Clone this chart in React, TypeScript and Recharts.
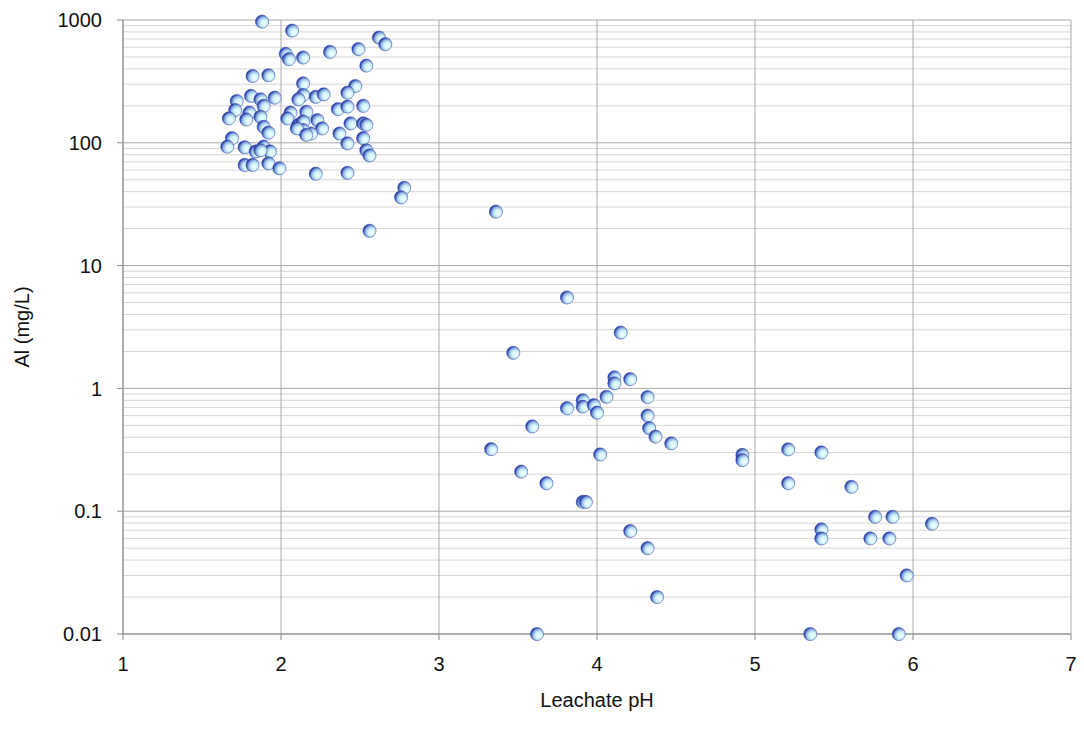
import { ScatterChart, Scatter, XAxis, YAxis, CartesianGrid } from 'recharts';

// Acid leachates (pH < 3)
const lowPh = [
  1.88, 2.07, 2.03, 2.05, 2.14, 2.31, 2.49, 2.62, 2.66, 2.54,
  1.82, 1.92, 2.14, 2.47, 2.42, 2.52, 1.96, 2.14, 2.11, 2.22,
  2.27, 1.81, 1.87, 1.72, 1.89, 1.71, 1.80, 1.67, 1.78, 1.87,
  1.89, 1.92, 2.06, 2.04, 2.16, 2.36, 2.42, 2.11, 2.14, 2.23,
  2.26, 2.19, 2.14, 2.44, 2.52, 2.54, 2.37, 2.52, 2.42, 2.54,
  2.56, 1.69, 1.66, 1.77, 1.84, 1.89, 1.93, 1.87, 1.77, 1.82,
  1.92, 1.99, 2.22, 2.42, 2.78, 2.76, 2.56, 2.10, 2.16,
];
const lowAl = [
  970, 820, 530, 480, 495, 550, 580, 720, 635, 425,
  350, 355, 305, 290, 256, 200, 233, 245, 226, 237,
  248, 241, 226, 219, 200, 185, 176, 158, 155, 163,
  135, 121, 176, 158, 179, 188, 197, 140, 149, 153,
  131, 119, 127, 144, 144, 140, 119, 109, 99, 87,
  79, 109, 93, 92, 85, 93, 85, 87, 66, 66,
  68, 62, 56, 57, 43, 36, 19.2, 131, 116,
];

// Transition leachates (pH 3 - 4.5)
const midPh = [
  3.36, 3.81, 4.15, 3.47, 4.11, 4.11, 4.21, 4.06, 4.32, 3.91,
  3.91, 3.98, 3.81, 4.0, 4.32, 4.33, 4.37, 4.47, 3.59, 3.33,
  4.02, 3.52, 3.68, 3.91, 3.93, 4.21, 4.32, 4.38, 3.62,
];
const midAl = [
  27.5, 5.5, 2.85, 1.95, 1.23, 1.1, 1.19, 0.855, 0.85, 0.8,
  0.71, 0.73, 0.69, 0.635, 0.6, 0.475, 0.405, 0.357, 0.49, 0.32,
  0.29, 0.21, 0.169, 0.119, 0.119, 0.069, 0.05, 0.02, 0.01,
];

// Near-neutral leachates (pH > 4.5)
const highPh = [
  4.92, 4.92, 5.21, 5.42, 5.21, 5.61, 5.76, 5.87, 6.12, 5.42,
  5.42, 5.73, 5.85, 5.96, 5.35, 5.91,
];
const highAl = [
  0.287, 0.261, 0.319, 0.301, 0.169, 0.158, 0.09, 0.09, 0.079, 0.071,
  0.06, 0.06, 0.06, 0.03, 0.01, 0.01,
];

const xTicks = [1, 2, 3, 4, 5, 6, 7];
const yTicks = [0.01, 0.1, 1, 10, 100, 1000];
const yMinor = [0.01, 0.1, 1, 10, 100].flatMap((d) => [2, 3, 4, 5, 6, 7, 8, 9].map((m) => +(d * m).toPrecision(3)));

const zip = (xs: number[], ys: number[]) => xs.map((x, i) => ({ x, y: ys[i] }));
const points = [...zip(lowPh, lowAl), ...zip(midPh, midAl), ...zip(highPh, highAl)];

const FONT = '"Liberation Sans", Arial, sans-serif';
const tickStyle = { fill: '#111', fontSize: 20, fontFamily: FONT };

function Ball(props: any) {
  const { cx, cy } = props;
  if (cx == null || cy == null) return null;
  return <circle cx={cx} cy={cy} r={6.6} fill="url(#ballFill)" stroke="#2c3fa4" strokeWidth={0.5} />;
}

export default function App() {
  return (
    <div style={{ position: 'absolute', left: 0, top: 0, background: '#fff' }}>
      <ScatterChart width={1084} height={743} margin={{ top: 20, right: 13, bottom: 19, left: 0 }}>
        <defs>
          <radialGradient id="ballFill" cx="0.64" cy="0.6" r="0.66" fx="0.68" fy="0.64">
            <stop offset="0" stopColor="#f4ffff" />
            <stop offset="0.4" stopColor="#d2f4f8" />
            <stop offset="0.68" stopColor="#93b6e4" />
            <stop offset="0.88" stopColor="#3e55b8" />
            <stop offset="1" stopColor="#1c2c94" />
          </radialGradient>
        </defs>

        {/* minor log gridlines */}
        <CartesianGrid vertical={false} horizontalValues={yMinor} stroke="#d6d6d6" strokeWidth={1} />
        {/* major gridlines */}
        <CartesianGrid horizontalValues={yTicks} verticalValues={xTicks} stroke="#a8a8a8" strokeWidth={1} />

        <XAxis
          type="number"
          dataKey="x"
          domain={[1, 7]}
          ticks={xTicks}
          interval={0}
          height={90}
          stroke="#8a8a8a"
          tickSize={6}
          tickMargin={17}
          tick={tickStyle}
          label={{
            content: ({ viewBox }: any) => (
              <text
                x={viewBox.x + viewBox.width / 2}
                y={viewBox.y + 66}
                textAnchor="middle"
                dominantBaseline="central"
                fontSize={20}
                fontFamily={FONT}
                fill="#111"
              >
                Leachate pH
              </text>
            ),
          }}
        />
        <YAxis
          type="number"
          dataKey="y"
          scale="log"
          domain={[0.01, 1000]}
          ticks={yTicks}
          interval={0}
          width={123}
          stroke="#8a8a8a"
          tickSize={6}
          tickMargin={15}
          tick={tickStyle}
          tickFormatter={(v: number) => String(v)}
          label={{
            content: ({ viewBox }: any) => {
              const lx = viewBox.x + 22;
              const ly = viewBox.y + viewBox.height / 2;
              return (
                <text
                  x={lx}
                  y={ly}
                  transform={`rotate(-90, ${lx}, ${ly})`}
                  textAnchor="middle"
                  dominantBaseline="central"
                  fontSize={20}
                  fontFamily={FONT}
                  fill="#111"
                >
                  Al (mg/L)
                </text>
              );
            },
          }}
        />

        <Scatter data={points} shape={Ball} isAnimationActive={false} />
      </ScatterChart>
    </div>
  );
}
